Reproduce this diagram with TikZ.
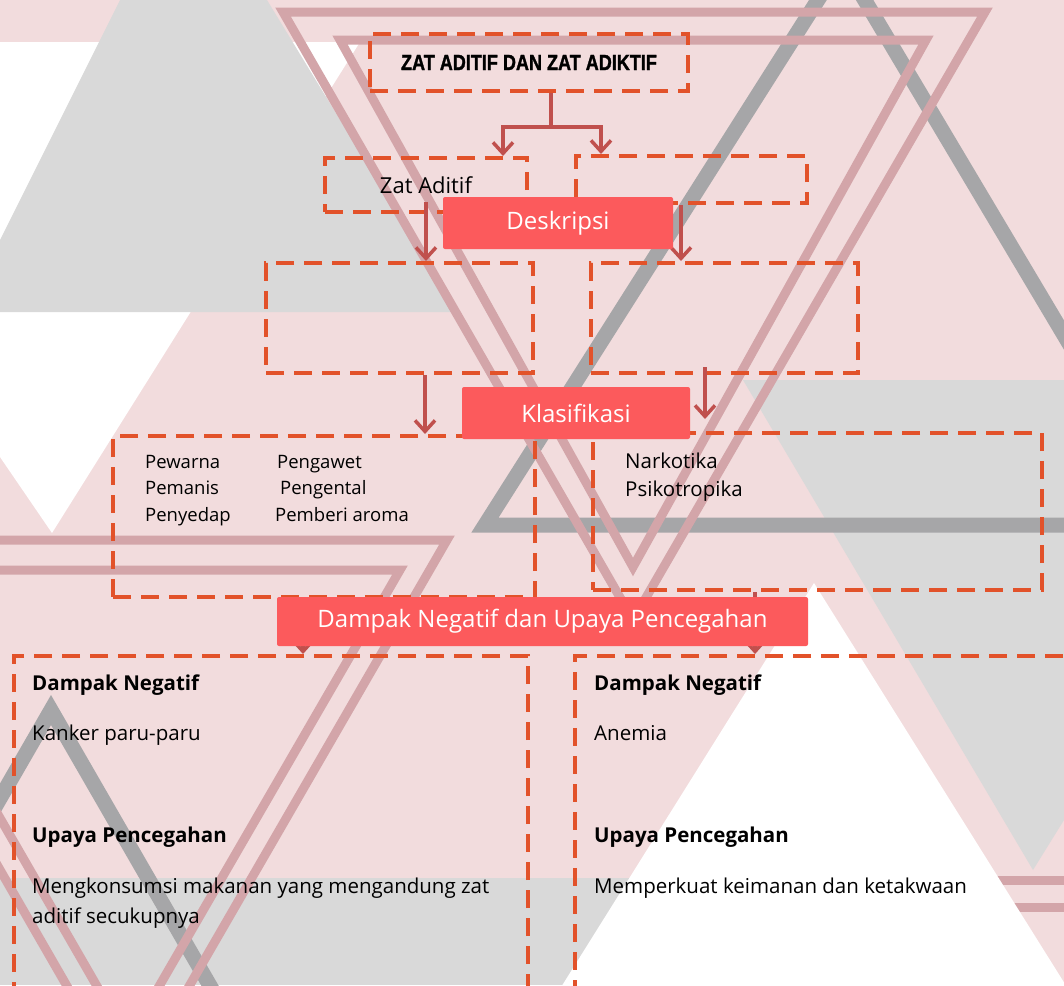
\documentclass[tikz,border=0pt]{standalone}
\usepackage{fontspec}
\setmainfont{Open Sans}
\newfontfamily\titlefont{Liberation Sans}[BoldFeatures={FakeBold=1.5}]
\usetikzlibrary{arrows.meta}
\definecolor{bgpink}{RGB}{242,220,221}
\definecolor{lgray}{RGB}{217,217,217}
\definecolor{dgray}{RGB}{166,166,168}
\definecolor{rosy}{RGB}{211,165,169}
\definecolor{dashc}{RGB}{226,82,42}
\definecolor{redbox}{RGB}{252,90,92}
\definecolor{arrc}{RGB}{192,80,77}
\tikzset{
  dbox/.style={draw=dashc, line width=4pt, dash pattern=on 18pt off 10pt, inner sep=0pt},
  rbox/.style={fill=redbox, rounded corners=2pt, inner sep=0pt, text=white, font=\fontsize{24}{26}\selectfont},
  arr/.style={draw=arrc, line width=3.5pt, -{Straight Barb[length=11pt,width=20pt]}},
  txt/.style={inner sep=0pt, anchor=mid west, font=\fontsize{20.5}{24}\selectfont},
  stxt/.style={inner sep=0pt, anchor=mid west, font=\fontsize{18.5}{22}\selectfont},
  hd/.style={inner sep=0pt, anchor=mid west, font=\fontsize{20.5}{24}\selectfont\bfseries},
  rosyl/.style={draw=rosy, line width=9pt, line join=miter},
  grayl/.style={draw=dgray, line width=15pt, line join=miter},
}
\begin{document}
\begin{tikzpicture}[x=1pt,y=-1pt]
\useasboundingbox (0,0) rectangle (1064,985);
\clip (0,0) rectangle (1064,985);
% ---------- background ----------
\fill[bgpink] (0,0) rectangle (1064,985);
\fill[white] (0,42) -- (360,42) -- (52,533) -- (0,457) -- cycle;
\fill[lgray] (120,0) -- (267,0) -- (457,312) -- (0,312) -- (0,240) -- cycle;
\fill[lgray] (0,878) rectangle (700,985);
\fill[lgray] (743,380) -- (1337,380) -- (1033,870) -- cycle;
\draw[grayl] (842,-38) -- (1177,525) -- (485,525) -- cycle;
\draw[grayl] (-122,1010) -- (51,710) -- (224,1010);
\draw[rosyl] (283,12) -- (985,12) -- (633,620) -- cycle;
\draw[rosyl] (340,40) -- (926,40) -- (633,567) -- cycle;
\draw[rosyl] (-190,540) -- (447,540) -- (128,1092) -- cycle;
\draw[rosyl] (-143,570) -- (400,570) -- (128,1040) -- cycle;
\draw[rosyl] (700,880) -- (1100,880);
\draw[rosyl] (700,907) -- (1100,907);
\fill[white] (814,583) -- (1075,1000) -- (553,1000) -- cycle;
% ---------- dashed boxes ----------
\node[dbox, minimum width=318pt, minimum height=57pt] (top) at (529,62.5)
  {\scalebox{0.82}[1]{\titlefont\bfseries\fontsize{22}{24}\selectfont ZAT ADITIF DAN ZAT ADIKTIF}};
\node[dbox, minimum width=202pt, minimum height=54pt, font=\fontsize{22}{24}\selectfont] (zat) at (426,185) {Zat Aditif};
\node[dbox, minimum width=231pt, minimum height=47pt] (adk) at (691.5,179.5) {};
\node[dbox, minimum width=267pt, minimum height=110pt] (descL) at (399.5,318) {};
\node[dbox, minimum width=267pt, minimum height=110pt] (descR) at (724.5,318) {};
\node[dbox, minimum width=422pt, minimum height=161pt] (klasL) at (324,516.5) {};
\node[dbox, minimum width=449pt, minimum height=157pt] (klasR) at (817.5,511.5) {};
\node[dbox, minimum width=514pt, minimum height=354pt] (botL) at (271,833) {};
\node[dbox, minimum width=515pt, minimum height=354pt] (botR) at (832.5,833) {};
% ---------- connectors ----------
\draw[arr] ([xshift=22pt]top.south) -- ++(0,34) -| ([xshift=77pt]zat.north);
\draw[arr] ([xshift=22pt]top.south) -- ++(0,34) -| ([xshift=-90.5pt]adk.north);
\draw[arr] ([yshift=12pt]zat.south) -- (zat.south |- descL.north);
\draw[arr] ([xshift=-10.5pt]adk.south) -- ([xshift=-10.5pt]adk.south |- descR.north);
\draw[arr] ([xshift=25.5pt]descL.south) -- ([xshift=25.5pt]descL.south |- klasL.north);
\draw[arr] ([xshift=-19.5pt,yshift=8pt]descR.south) -- ([xshift=-19.5pt,yshift=12pt]descR.south |- klasR.north);
\draw[arr] ([xshift=-21pt]klasL.south) -- ([xshift=-21pt]klasL.south |- botL.north);
\draw[arr] ([xshift=-62.5pt]klasR.south) -- ([xshift=-62.5pt]klasR.south |- botR.north);
% ---------- red title boxes ----------
\node[rbox, minimum width=230pt, minimum height=52pt] (desk) at (558,223) {Deskripsi};
\node[rbox, minimum width=228pt, minimum height=52pt] (klas) at (576,413) {Klasifikasi};
\node[rbox, minimum width=531pt, minimum height=49pt] (damp) at (542.5,621.5) {Dampak Negatif dan Upaya Pencegahan};
% ---------- texts ----------
\node[stxt] (t1) at (145,466) {Pewarna};
\node[stxt] (t2) at (277,466) {Pengawet};
\node[stxt] (t3) at (145,492) {Pemanis};
\node[stxt] (t4) at (280,492) {Pengental};
\node[stxt] (t5) at (145,519) {Penyedap};
\node[stxt] (t6) at (275,519) {Pemberi aroma};
\node[txt] (t7) at (625,466) {Narkotika};
\node[txt] (t8) at (625,494) {Psikotropika};
\node[hd] (l1) at (32,688) {Dampak Negatif};
\node[txt] (l2) at (32,738) {Kanker paru-paru};
\node[hd] (l3) at (32,840) {Upaya Pencegahan};
\node[txt] (l4) at (32,891) {Mengkonsumsi makanan yang mengandung zat};
\node[txt] (l5) at (32,921) {aditif secukupnya};
\node[hd] (r1) at (594,688) {Dampak Negatif};
\node[txt] (r2) at (594,738) {Anemia};
\node[hd] (r3) at (594,840) {Upaya Pencegahan};
\node[txt] (r4) at (594,891) {Memperkuat keimanan dan ketakwaan};
\end{tikzpicture}
\end{document}
